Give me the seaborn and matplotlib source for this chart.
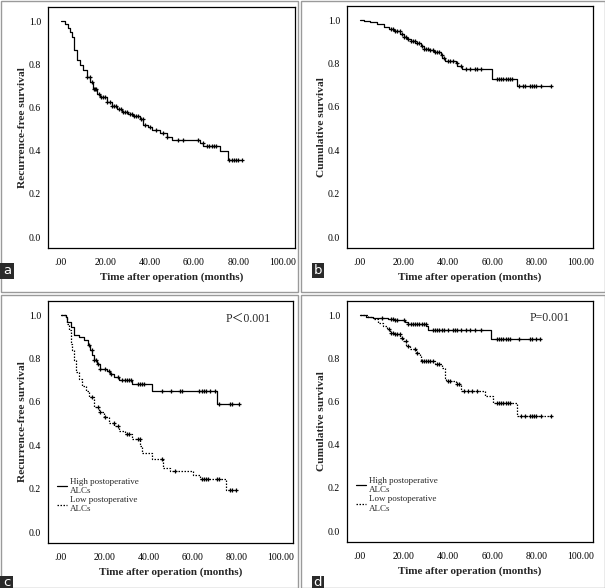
import numpy as np
import pandas as pd
import matplotlib
matplotlib.use("Agg")
import matplotlib.pyplot as plt
from matplotlib.patches import Rectangle
from matplotlib.lines import Line2D
import seaborn as sns

sns.set_style("white")
plt.rcParams['font.family'] = ['Liberation Serif', 'Noto Sans CJK SC', 'DejaVu Sans']

# ---------------- data ----------------
x_ticks = [0, 20, 40, 60, 80, 100]
x_tick_labels = ['.00', '20.00', '40.00', '60.00', '80.00', '100.00']
y_ticks = [0.0, 0.2, 0.4, 0.6, 0.8, 1.0]
y_tick_labels = ['0.0', '0.2', '0.4', '0.6', '0.8', '1.0']
x_label = 'Time after operation (months)'
y_label_rfs = 'Recurrence-free survival'
y_label_os = 'Cumulative survival'
group_labels = ['High postoperative\nALCs', 'Low postoperative\nALCs']
p_text_c = 'P＜0.001'
p_text_d = 'P=0.001'
panel_letters = ['a', 'b', 'c', 'd']

# panel a: overall RFS
a_t = [0, 1.8, 3.3, 4.1, 4.8, 5.9, 7.1, 8.6, 10.1, 11.9, 13.1, 14.6, 16.1, 17.6, 20.6, 22.9,
       25.1, 27.4, 30.4, 32.6, 35.6, 37.1, 39.4, 40.9, 44.7, 47.7, 49.9, 62.7, 64.2, 71.7, 75.5, 81.5]
a_s = [1.0, 0.988, 0.97, 0.95, 0.926, 0.864, 0.818, 0.795, 0.772, 0.741, 0.718, 0.687, 0.664, 0.648,
       0.625, 0.605, 0.594, 0.579, 0.571, 0.559, 0.548, 0.517, 0.512, 0.497, 0.481, 0.463, 0.451,
       0.435, 0.421, 0.397, 0.358, 0.358]
a_cens = [12, 13, 14, 15, 15.5, 16, 17, 18, 19, 20, 21, 22, 23, 24, 25, 26, 27, 28, 29, 30, 31, 32,
          33, 34, 35, 36, 37, 38, 40, 43, 46, 48, 53, 55, 62, 64, 66, 67, 68, 69, 70, 76, 77, 78, 79,
          80, 81.5]

# panel b: overall survival
b_t = [0, 1.8, 4.8, 7.9, 10.9, 13.1, 15.4, 18.4, 19.9, 21.5, 23.0, 25.2, 27.5, 29.0, 31.3, 33.5,
       36.6, 37.3, 38.8, 43.4, 44.1, 45.6, 46.4, 60.0, 71.3, 86.4]
b_s = [1.0, 0.995, 0.99, 0.98, 0.969, 0.96, 0.95, 0.938, 0.923, 0.914, 0.903, 0.895, 0.88, 0.867,
       0.861, 0.852, 0.841, 0.826, 0.81, 0.802, 0.79, 0.787, 0.776, 0.727, 0.697, 0.697]
b_cens = [14, 15, 16, 17, 18, 19, 20, 21, 22, 23, 24, 25, 26, 27, 28, 29, 30, 31, 32, 33, 34, 35,
          36, 37, 38, 40, 41, 42, 44, 46, 48, 50, 52, 53, 55, 62, 63, 64, 65, 66, 67, 68, 69, 72,
          74, 75, 77, 78, 79, 80, 82, 86.4]

# panel c: RFS by ALC group
c_high_t = [0, 2.3, 3.0, 4.5, 6.0, 8.3, 10.5, 12.3, 13.2, 14.3, 15.0, 16.5, 18.0, 21.1, 22.6,
            24.1, 26.3, 32.3, 41.4, 71.0, 81.2]
c_high_s = [1.0, 0.992, 0.969, 0.946, 0.907, 0.9, 0.884, 0.861, 0.838, 0.815, 0.791, 0.776, 0.753,
            0.742, 0.73, 0.714, 0.702, 0.683, 0.652, 0.59, 0.59]
c_high_cens = [13, 14, 15, 16, 17, 18, 20, 22, 23, 26, 28, 29, 30, 31, 32, 35, 36, 37, 38, 46, 50,
               54, 55, 63, 64, 65, 66, 68, 70, 72, 77, 78, 81.2]
c_low_t = [0, 2.3, 3.0, 3.8, 4.5, 5.3, 6.0, 6.8, 8.3, 9.8, 11.3, 12.8, 15.0, 17.3, 19.5, 21.8,
           24.1, 26.3, 29.3, 32.3, 36.1, 36.8, 41.4, 46.6, 49.6, 60.2, 63.2, 75.2, 80.0]
c_low_s = [1.0, 0.992, 0.961, 0.93, 0.869, 0.838, 0.791, 0.737, 0.706, 0.675, 0.652, 0.621, 0.575,
           0.552, 0.529, 0.505, 0.49, 0.467, 0.454, 0.43, 0.396, 0.366, 0.335, 0.296, 0.283, 0.265,
           0.245, 0.195, 0.195]
c_low_cens = [14, 17, 18, 20, 24, 26, 30, 31, 35, 36, 46, 52, 64, 65, 66, 67, 71, 72, 77, 78, 79.5]

# panel d: OS by ALC group
d_high_t = [0, 3.0, 6.0, 9.8, 12.8, 15.8, 20.4, 21.9, 30.2, 30.9, 59.6, 81.9]
d_high_s = [1.0, 0.992, 0.988, 0.985, 0.98, 0.975, 0.969, 0.96, 0.949, 0.929, 0.888, 0.888]
d_high_cens = [10, 14, 15, 16, 17, 20, 22, 23, 24, 25, 26, 27, 28, 29, 30, 33, 34, 35, 36, 37, 38,
               40, 42, 43, 44, 46, 48, 50, 52, 55, 62, 63, 64, 65, 66, 67, 68, 72, 77, 78, 80, 81.5]
d_low_t = [0, 3.8, 6.0, 8.3, 10.6, 12.1, 13.6, 15.8, 18.1, 19.6, 21.1, 22.6, 25.6, 27.1, 27.9,
           33.9, 37.0, 38.5, 39.2, 43.7, 46.0, 56.6, 60.3, 71.3, 86.4]
d_low_s = [1.0, 0.992, 0.98, 0.965, 0.949, 0.934, 0.918, 0.911, 0.895, 0.88, 0.857, 0.842, 0.826,
           0.811, 0.788, 0.772, 0.757, 0.711, 0.695, 0.68, 0.649, 0.626, 0.595, 0.531, 0.531]
d_low_cens = [13, 14, 15, 16, 17, 18, 19, 21, 22, 25, 26, 28, 29, 30, 31, 32, 33, 35, 36, 40, 41,
              44, 45, 47, 49, 51, 53, 62, 63, 64, 65, 66, 67, 68, 73, 75, 77, 78, 79, 80, 82, 86.4]

# ---------------- figure ----------------
W, H = 605, 588
fig = plt.figure(figsize=(W / 100, H / 100), dpi=100)
fig.patch.set_facecolor('white')


def px_axes(x0, y0, x1, y1):
    return fig.add_axes([x0 / W, 1 - y1 / H, (x1 - x0) / W, (y1 - y0) / H])


def km(ax, t, s, cens, dashed=False):
    df = pd.DataFrame({'t': t, 's': s})
    ls = (0, (1.2, 1.2)) if dashed else '-'
    sns.lineplot(data=df, x='t', y='s', ax=ax, drawstyle='steps-post', estimator=None,
                 sort=False, color='black', linewidth=0.9, linestyle=ls)
    t_arr = np.asarray(t)
    s_arr = np.asarray(s)
    idx = np.searchsorted(t_arr, np.asarray(cens), side='right') - 1
    cdf = pd.DataFrame({'t': cens, 's': s_arr[idx]})
    sns.scatterplot(data=cdf, x='t', y='s', ax=ax, marker='+', s=9, linewidth=0.9,
                    color='black', zorder=3)


def style(ax, ylabel):
    ax.set_xlim(-5.8, 105.6)
    ax.set_ylim(-0.05, 1.065)
    ax.set_xticks(x_ticks)
    ax.set_xticklabels(x_tick_labels)
    ax.set_yticks(y_ticks)
    ax.set_yticklabels(y_tick_labels)
    ax.tick_params(axis='both', direction='out', length=3, width=0.8, labelsize=7,
                   color='black', labelcolor='black')
    ax.tick_params(axis='x', pad=4)
    ax.tick_params(axis='y', pad=2)
    for sp in ax.spines.values():
        sp.set_visible(True)
        sp.set_color('black')
        sp.set_linewidth(0.9)
    ax.set_xlabel(x_label, fontsize=8.0, fontweight='bold', labelpad=4)
    ax.set_ylabel(ylabel, fontsize=8.2, fontweight='bold', labelpad=1)
    ax.set_facecolor('white')


ax_a = px_axes(48, 7, 295, 248)
km(ax_a, a_t, a_s, a_cens)
style(ax_a, y_label_rfs)

ax_b = px_axes(347, 6, 593, 248)
km(ax_b, b_t, b_s, b_cens)
style(ax_b, y_label_os)

ax_c = px_axes(48, 301, 293, 543)
km(ax_c, c_high_t, c_high_s, c_high_cens)
km(ax_c, c_low_t, c_low_s, c_low_cens, dashed=True)
style(ax_c, y_label_rfs)
ax_c.text(75, 0.985, p_text_c, fontsize=8.5, ha='left', va='center',
          family=['Liberation Serif', 'Noto Sans CJK SC'])

ax_d = px_axes(347, 301, 593, 542)
km(ax_d, d_high_t, d_high_s, d_high_cens)
km(ax_d, d_low_t, d_low_s, d_low_cens, dashed=True)
style(ax_d, y_label_os)
ax_d.text(77, 0.985, p_text_d, fontsize=8.5, ha='left', va='center')

handles = [Line2D([], [], color='black', lw=0.9, ls='-'),
           Line2D([], [], color='black', lw=0.9, ls=(0, (1.2, 1.2)))]
for ax in (ax_c, ax_d):
    ax.legend(handles, group_labels, loc='upper left', bbox_to_anchor=(0.035, 0.27),
              frameon=False, fontsize=6.5, handlelength=1.2, handletextpad=0.3,
              labelspacing=0.15, borderpad=0, borderaxespad=0)

# panel borders
for (x0, y0, x1, y1) in [(0.5, 0.5, 298, 292), (301, 0.5, 604.5, 292),
                         (0.5, 295, 298, 587.5), (301, 295, 604.5, 587.5)]:
    fig.add_artist(Rectangle((x0 / W, 1 - y1 / H), (x1 - x0) / W, (y1 - y0) / H,
                             transform=fig.transFigure, fill=False, edgecolor='#9a9a9a',
                             linewidth=1.0))

# panel letter boxes
for letter, (x0, y0, w, h) in zip(panel_letters, [(0, 263, 14, 16), (312, 263, 12, 15),
                                                  (0, 576, 13, 12), (312, 576, 12, 12)]):
    fig.add_artist(Rectangle((x0 / W, 1 - (y0 + h) / H), w / W, h / H,
                             transform=fig.transFigure, facecolor='#2a2a2a', edgecolor='none'))
    fig.text((x0 + w / 2) / W, 1 - (y0 + h / 2) / H, letter, color='white', fontsize=9.5,
             ha='center', va='center', family='DejaVu Sans')

fig.savefig('out.png', dpi=100, facecolor='white')
